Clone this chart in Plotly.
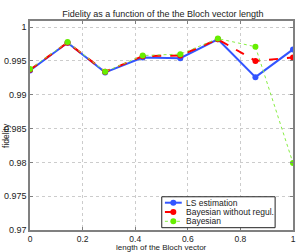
import plotly.graph_objects as go

x_vals = [0, 1/7, 2/7, 3/7, 4/7, 5/7, 6/7, 1]
ls_est = [0.9936, 0.9977, 0.9933, 0.9955, 0.9954, 0.9982, 0.9926, 0.9967]
bayes_noreg = [0.9937, 0.9977, 0.9934, 0.9957, 0.9958, 0.9982, 0.9950, 0.9955]
bayes = [0.9938, 0.9978, 0.9934, 0.9958, 0.9960, 0.9983, 0.9971, 0.9799]

series_names = ["LS estimation", "Bayesian without regul.", "Bayesian"]
series_colors = ["#3355ff", "#ff0000", "#66ee00"]
series_dash = ["solid", "dash", "dot"]
series_width = [2, 2, 1]

y_ticks = [0.97, 0.975, 0.98, 0.985, 0.99, 0.995, 1.0]
y_ticktext = ["0.97", "0.975", "0.98", "0.985", "0.99", "0.995", "1"]
x_ticks = [0, 0.2, 0.4, 0.6, 0.8, 1]
x_ticktext = ["0", "0.2", "0.4", "0.6", "0.8", "1"]

fig = go.Figure()
for ys, nm, col, dsh, wd in zip([ls_est, bayes_noreg, bayes], series_names, series_colors,
                                series_dash, series_width):
    lc = "#88ee44" if nm == "Bayesian" else col
    fig.add_trace(go.Scatter(x=x_vals, y=ys, name=nm, mode="lines+markers",
                             line=dict(color=lc, width=wd, dash=dsh),
                             marker=dict(size=6, color=col), showlegend=False))

axis_common = dict(showline=True, linecolor="#808080", linewidth=1.5, mirror="ticks",
                   ticks="inside", ticklen=3, tickcolor="#808080",
                   showgrid=True, gridcolor="#cccccc", griddash="dot", gridwidth=1,
                   zeroline=False, automargin=False)

fig.update_layout(
    width=300, height=252,
    margin=dict(l=30, r=7, t=21, b=22),
    paper_bgcolor="white", plot_bgcolor="white",
    font=dict(family="Liberation Sans, Arial, sans-serif", size=9, color="#222222"),
    title=dict(text="Fidelity as a function of the the Bloch vector length", x=0.543, xanchor="center",
               y=0.944, yanchor="middle", font=dict(size=9), automargin=False),
    xaxis=dict(range=[0, 1], tickvals=x_ticks, ticktext=x_ticktext, ticklabelstandoff=0,
               tickfont=dict(size=8.5, color="#222222"), **axis_common),
    yaxis=dict(range=[0.97, 1.0009], tickvals=y_ticks, ticktext=y_ticktext,
               tickfont=dict(size=9, color="#222222"), **axis_common),
    showlegend=False,
)

# manual legend (compact, MATLAB style)
fig.add_shape(type="rect", xref="paper", yref="paper", x0=0.501, x1=0.932, y0=0.011, y1=0.159,
              fillcolor="white", line=dict(color="#222222", width=1), layer="above")
entry_y = [0.1306, 0.0861, 0.0416]
for ey, nm, col, dsh, wd in zip(entry_y, series_names, series_colors, series_dash, series_width):
    lc = "#88ee44" if nm == "Bayesian" else col
    fig.add_shape(type="line", xref="paper", yref="paper", x0=0.513, x1=0.577, y0=ey, y1=ey,
                  line=dict(color=lc, width=wd, dash=dsh), layer="above")
    fig.add_shape(type="circle", xref="paper", yref="paper", xsizemode="pixel", ysizemode="pixel",
                  xanchor=0.545, yanchor=ey, x0=-3, x1=3, y0=-3, y1=3,
                  fillcolor=col, line=dict(color=col, width=0), layer="above")
    fig.add_annotation(text=nm, xref="paper", yref="paper", x=0.587, y=ey, xanchor="left",
                       yanchor="middle", showarrow=False, font=dict(size=8.5))

fig.add_annotation(text="length of the Bloch vector", xref="paper", yref="paper",
                   x=0.5, y=0, yshift=-17.5, xanchor="center", yanchor="middle", showarrow=False,
                   font=dict(size=8), borderpad=0)
fig.add_annotation(text="fidelity", xref="paper", yref="paper", xshift=-24,
                   x=0, y=0.45, xanchor="center", yanchor="middle", showarrow=False,
                   textangle=-90, font=dict(size=8.5))

fig.write_html("out.html", config={"displayModeBar": False},
               post_script="document.body.style.margin='0';document.body.style.overflow='hidden';")
